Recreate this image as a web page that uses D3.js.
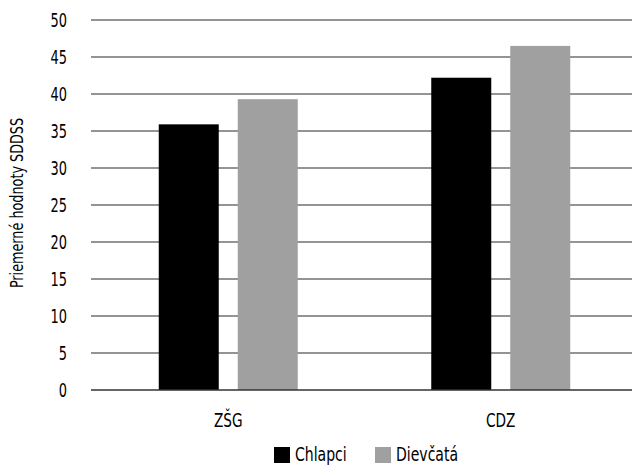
<!DOCTYPE html>
<html><head><meta charset="utf-8">
<script src="https://cdn.jsdelivr.net/npm/d3@7"></script>
<style>
body{margin:0;background:#fff;}
svg text{font-family:"DejaVu Sans Condensed","Liberation Sans Narrow",sans-serif;fill:#000;}
</style></head><body>
<svg id="c" width="632" height="465"></svg>
<script>
const categories = ["ZŠG", "CDZ"];
const seriesNames = ["Chlapci", "Dievčatá"];
const chlapci = [35.9, 42.2];
const dievcata = [39.3, 46.5];
const yTicks = [0, 5, 10, 15, 20, 25, 30, 35, 40, 45, 50];
const colors = ["#000000", "#a0a0a0"];

const svg = d3.select("#c");
const W = 632, H = 465;
const y = d3.scaleLinear().domain([0, 50]).range([390, 20]);
const x0 = d3.scaleBand().domain(categories).range([92, 637]);
const x1 = d3.scaleBand().domain(seriesNames).range([0, 139]).paddingInner(0.2405);
const series = [chlapci, dievcata];

function txt(g, x, yy, s, size, sx, anchor) {
  return g.append("text").attr("transform", `translate(${x},${yy}) scale(${sx},1)`)
    .attr("text-anchor", anchor || "start").attr("font-size", size).text(s);
}

// gridlines
svg.append("g").selectAll("line").data(yTicks.filter(d => d > 0)).join("line")
  .attr("x1", 91).attr("x2", W).attr("y1", d => y(d)).attr("y2", d => y(d))
  .attr("stroke", "#2a2a2a").attr("stroke-width", 1.2);

// bars
categories.forEach((c, ci) => {
  const cx = x0(c) + x0.bandwidth() / 2 - 69.5;
  seriesNames.forEach((s, si) => {
    svg.append("rect")
      .attr("x", cx + x1(s)).attr("width", x1.bandwidth())
      .attr("y", y(series[si][ci])).attr("height", y(0) - y(series[si][ci]))
      .attr("fill", colors[si]);
  });
});

// baseline
svg.append("line").attr("x1", 91).attr("x2", W).attr("y1", y(0)).attr("y2", y(0))
  .attr("stroke", "#333").attr("stroke-width", 1.6);

// y tick labels
const gt = svg.append("g");
yTicks.forEach(d => txt(gt, 67, y(d) + 7, d, 20, 0.72, "end"));

// category labels
const gc = svg.append("g");
categories.forEach(d => txt(gc, x0(d) + x0.bandwidth() / 2, 427, d, 20, 0.76, "middle"));

// y-axis title
svg.append("text").attr("transform", "translate(23,203) rotate(-90) scale(0.79,1)")
  .attr("text-anchor", "middle").attr("font-size", 18).text("Priemerné hodnoty SDDSS");

// legend
const gl = svg.append("g");
const leg = [{n: seriesNames[0], x: 274}, {n: seriesNames[1], x: 375}];
leg.forEach((l, i) => {
  gl.append("rect").attr("x", l.x).attr("y", 447).attr("width", 16).attr("height", 16).attr("fill", colors[i]);
  txt(gl, l.x + 21, 461, l.n, 20, 0.78, "start");
});
</script></body></html>
